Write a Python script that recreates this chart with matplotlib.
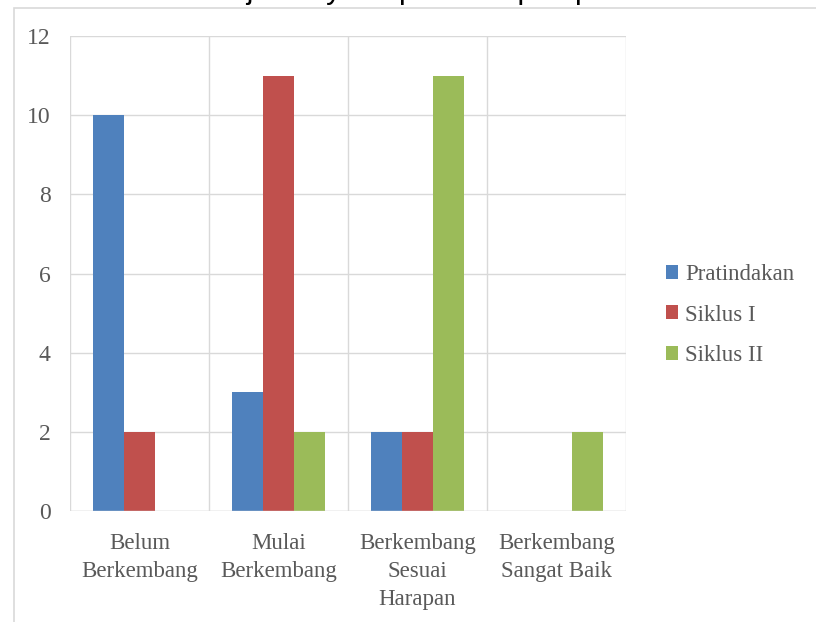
import matplotlib.pyplot as plt
import matplotlib.patches as mpatches
import numpy as np

# Data
kategori = ['Belum\nBerkembang', 'Mulai\nBerkembang', 'Berkembang\nSesuai\nHarapan', 'Berkembang\nSangat Baik']
pratindakan = [10, 3, 2, 0]
siklus_1 = [2, 11, 2, 0]
siklus_2 = [0, 2, 11, 2]
nama_seri = ['Pratindakan', 'Siklus I', 'Siklus II']
warna = ['#4F81BD', '#C0504D', '#9BBB59']

plt.rcParams['font.family'] = ['Liberation Serif', 'DejaVu Serif']

fig = plt.figure(figsize=(8.16, 6.22), dpi=100)
ax = fig.add_axes([70 / 816, 1 - 511 / 622, 556 / 816, 475 / 622])

x = np.arange(len(kategori))
lebar = 0.223
for i, (nilai, nama, c) in enumerate(zip([pratindakan, siklus_1, siklus_2], nama_seri, warna)):
    ax.bar(x + (i - 1) * lebar, nilai, width=lebar, color=c, label=nama, zorder=3)

ax.set_xlim(-0.5, len(kategori) - 0.5)
ax.set_ylim(0, 12)
ax.set_yticks(range(0, 13, 2))
ax.set_xticks(x)
ax.set_xticklabels(kategori, fontsize=16.5, color='#595959', linespacing=1.44)
ax.tick_params(axis='y', labelsize=17, labelcolor='#595959', length=0, pad=14)
ax.tick_params(axis='x', length=0, pad=16)

# gridlines
ax.yaxis.grid(True, color='#D9D9D9', linewidth=1, zorder=0)
for b in np.arange(-0.5, len(kategori), 1):
    ax.axvline(b, color='#D9D9D9', linewidth=1, zorder=0)
for s in ax.spines.values():
    s.set_visible(False)
ax.axhline(0, color='#D9D9D9', linewidth=1, zorder=4)

leg = fig.legend(loc='center left', bbox_to_anchor=(645 / 816, 1 - 315 / 622), frameon=False,
                 fontsize=16.5, handlelength=0.55, handleheight=0.55, handletextpad=0.3,
                 labelspacing=0.85, labelcolor='#595959')

# outer chart border (cut off at right and bottom)
fig.patches.append(mpatches.Rectangle((14 / 816, -0.1), 1.2, (622 - 8) / 622 + 0.1,
                                      transform=fig.transFigure, fill=False,
                                      edgecolor='#D9D9D9', linewidth=1.2))

# clipped caption text at top
fig.text(0.55, 1.0 + 2 / 622, 'Untuk lebih jelasnya seperti tampak pada Gambar 4.6',
         family='Liberation Sans', fontsize=22, ha='center', va='baseline', color='black')

fig.savefig('out.png', dpi=100)
